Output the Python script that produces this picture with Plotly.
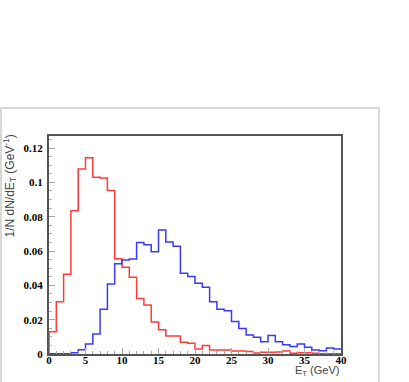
import plotly.graph_objects as go

# Bin edges 0..40 GeV, 1 GeV bins
bin_edges = list(range(0, 41))

red_values = [0.013, 0.0304, 0.0465, 0.0834, 0.1078, 0.1144, 0.103, 0.1026, 0.0952, 0.0555,
              0.0505, 0.0447, 0.0323, 0.0286, 0.0186, 0.0141, 0.0105, 0.0105, 0.0068, 0.0062,
              0.0029, 0.005, 0.0023, 0.0023, 0.0023, 0.0017, 0.0017, 0.0015, 0.0006, 0.001,
              0.001, 0.0012, 0.0017, 0.0004, 0.0008, 0.0008, 0.0004, 0.0002, 0.0002, 0.0002]

blue_values = [0.0002, 0.0002, 0.0002, 0.0008, 0.0025, 0.0058, 0.0116, 0.0261, 0.0408, 0.0526,
               0.0548, 0.0553, 0.065, 0.0637, 0.0596, 0.0722, 0.0652, 0.0627, 0.047, 0.0451,
               0.0412, 0.0389, 0.0304, 0.0261, 0.0252, 0.019, 0.0149, 0.011, 0.0097, 0.0072,
               0.0108, 0.0072, 0.0054, 0.0043, 0.0058, 0.0039, 0.0023, 0.0019, 0.0035, 0.0029]

x_ticks = [0, 5, 10, 15, 20, 25, 30, 35, 40]
y_ticks = [0, 0.02, 0.04, 0.06, 0.08, 0.1, 0.12]
y_tick_labels = ["0", "0.02", "0.04", "0.06", "0.08", "0.1", "0.12"]


def step_xy(edges, vals):
    xs = [edges[0]] + edges[:-1] + [edges[-1]]
    ys = [0] + vals + [vals[-1]]
    return xs, ys


fig = go.Figure()
for vals, col in [(red_values, "#ff3a3a"), (blue_values, "#3a3aff")]:
    xs, ys = step_xy(bin_edges, vals)
    fig.add_trace(go.Scatter(x=xs, y=ys, mode="lines", line=dict(shape="hv", color=col, width=1.5),
                             showlegend=False, hoverinfo="skip"))

W, H = 409, 382
L, T = 49, 136
pw, ph = 292, 218
R, B = W - L - pw, H - T - ph


def px2paper_x(px):
    return (px - L) / pw


def px2paper_y(py):
    return (T + ph - py) / ph


tickfont = dict(family="Liberation Serif", size=11, color="black", weight="bold")

fig.update_layout(
    width=W, height=H,
    margin=dict(l=L, r=R, t=T, b=B, autoexpand=False),
    paper_bgcolor="white", plot_bgcolor="white",
    xaxis=dict(range=[0, 40], tickvals=x_ticks, ticktext=[str(v) for v in x_ticks],
               ticks="inside", ticklen=6, tickcolor="#aaaaaa", tickwidth=1,
               minor=dict(ticks="inside", ticklen=3, dtick=1, tickcolor="#aaaaaa"),
               showgrid=False, zeroline=False, showline=True, linecolor="#555555", linewidth=2,
               mirror=True, tickfont=tickfont, ticklabelstandoff=-5),
    yaxis=dict(range=[0, 0.127], tickvals=y_ticks, ticktext=y_tick_labels,
               ticks="inside", ticklen=6, tickcolor="#aaaaaa", tickwidth=1,
               minor=dict(ticks="inside", ticklen=3, dtick=0.005, tickcolor="#aaaaaa"),
               showgrid=False, zeroline=False, showline=True, linecolor="#555555", linewidth=2,
               mirror=True, tickfont=tickfont, ticklabelstandoff=2),
)

# outer light-gray frame
fig.add_shape(type="rect", xref="paper", yref="paper",
              x0=px2paper_x(1), x1=px2paper_x(379), y0=px2paper_y(395), y1=px2paper_y(108),
              line=dict(color="#d8d8d8", width=2), layer="below")

fig.add_annotation(text="1/N dN/dE<sub>T</sub> (GeV<sup>-1</sup>)", xref="paper", yref="paper",
                   x=px2paper_x(9), y=px2paper_y(133), xanchor="center", yanchor="top",
                   textangle=-90, showarrow=False,
                   font=dict(family="Liberation Sans", size=12, color="#444444"))
fig.add_annotation(text="E<sub>T</sub> (GeV)", xref="paper", yref="paper",
                   x=1.0, y=px2paper_y(371), xanchor="right", yanchor="middle",
                   showarrow=False, font=dict(family="Liberation Sans", size=11, color="#444444"))

fig.write_html("out.html", config={"displayModeBar": False},
               post_script="document.body.style.margin='0';")
